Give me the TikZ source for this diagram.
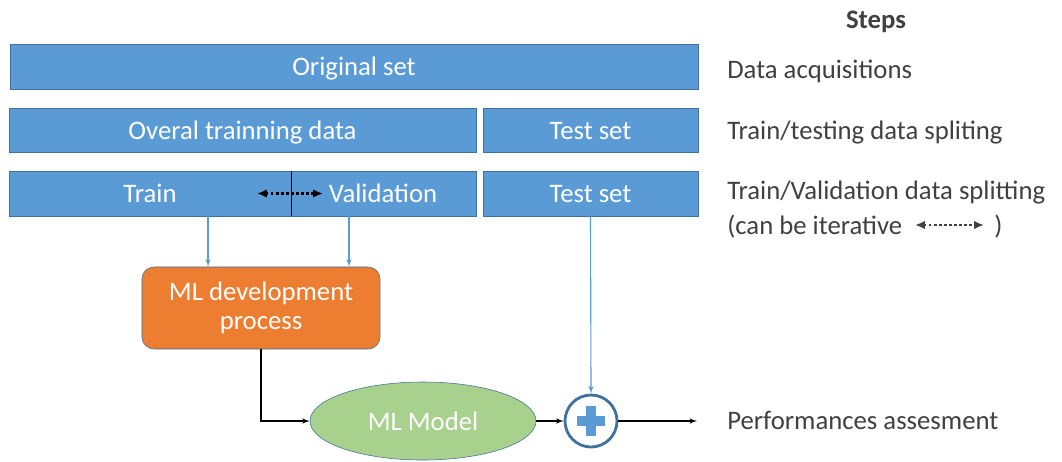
\documentclass[tikz,border=0pt]{standalone}
\usepackage{fontspec}
\setmainfont{Carlito}
\usepackage{tikz}
\usetikzlibrary{arrows}
\usetikzlibrary{arrows.meta}
\usetikzlibrary{positioning}
\usetikzlibrary{shapes.geometric}
\definecolor{boxblue}{HTML}{5B9BD5}
\definecolor{edgeblue}{HTML}{41719C}
\definecolor{devorange}{HTML}{ED7D31}
\definecolor{modelgreen}{HTML}{A9D18E}
\definecolor{stepgray}{HTML}{404040}
\tikzset{databox/.style = {draw = edgeblue, fill = boxblue, text = white,
                           minimum height = 1.1cm, inner sep = 0,
                           text height = 13pt, text depth = 0pt}}
\tikzset{steptext/.style = {anchor = west, text = stepgray, inner sep = 0,
                            text height = 13pt, text depth = 0pt}}
\tikzset{link/.style = {-latex', thick}}
\tikzset{bluelink/.style = {-latex', boxblue, thick}}
\tikzset{iterlink/.style = {{Latex[length = 7pt, width = 6pt]}-{Latex[length = 7pt, width = 6pt]},
                            line width = 1.8pt, dash pattern = on 1.8pt off 1.8pt}}

\begin{document}
\begin{tikzpicture}[x = 0.025cm, y = -0.025cm,
                    every node/.style = {font = \fontsize{19}{23}\selectfont}]
      \useasboundingbox (0, 0) rectangle (1062, 461);

      % data boxes
      \node [databox, minimum width = 17.2cm, minimum height = 1.125cm] (orig) at (354, 66.5) {Original set};
      \node [databox, minimum width = 11.675cm] (overall) at (242.5, 130) {Overal trainning data};
      \node [databox, minimum width = 5.375cm] (test1) at (590.5, 130) {Test set};
      \node [databox, minimum width = 11.675cm, minimum height = 1.125cm] (trval) at (242.5, 193.5) {};
      \node [databox, minimum width = 5.375cm, minimum height = 1.125cm] (test2) at (590.5, 193.5) {Test set};
      \node [text = white, inner sep = 0, text height = 13pt, text depth = 0pt] (train) at (150, 193.5) {Train};
      \node [text = white, inner sep = 0, text height = 13pt, text depth = 0pt] (valid) at (383, 193.5) {Validation};
      \draw (291, 0 |- trval.north) -- (291, 0 |- trval.south);
      \draw [iterlink] (257, 193.5) -- (323, 193.5);

      % development and model
      \node [draw = edgeblue, fill = devorange, text = white, rounded corners = 0.3cm,
             minimum width = 5.95cm, minimum height = 2.05cm, align = center,
             inner sep = 0] (mldev) at (261, 308) {ML development\\[-2pt]process};
      \node [ellipse, draw = edgeblue, fill = modelgreen, text = white,
             minimum width = 5.65cm, minimum height = 1.95cm] (model) at (423, 421) {ML Model};
      \node [circle, draw = edgeblue, line width = 2pt, fill = white,
             minimum size = 1.3cm] (sum) at (591, 421) {};
      \draw [boxblue, line width = 7.5pt] ([yshift = 0.37cm] sum.center) -- ([yshift = -0.37cm] sum.center);
      \draw [boxblue, line width = 7.5pt] ([xshift = -0.36cm] sum.center) -- ([xshift = 0.36cm] sum.center);
      \coordinate (out) at (697, 421);

      \draw [bluelink] (208, 0 |- trval.south) -- (208, 0 |- mldev.north);
      \draw [bluelink] (349, 0 |- trval.south) -- (349, 0 |- mldev.north);
      \draw [bluelink] (test2.south) -- (sum.north);
      \draw [link] (mldev.south) |- (model.west);
      \draw [link] (model.east) -- (sum.west);
      \draw [link] (sum.east) -- (out);

      % steps
      \node [text = stepgray, font = \fontsize{19}{23}\selectfont\bfseries] (steps) at (876, 22) {Steps};
      \node [steptext] (acq) at (727, 69) {Data acquisitions};
      \node [steptext] (split1) at (727, 130) {Train/testing data spliting};
      \node [steptext] (split2) at (727, 190) {Train/Validation data splitting};
      \node [steptext] (iter) at (727, 225) {(can be iterative};
      \node [steptext] (paren) at (994, 225) {)};
      \draw [iterlink, stepgray] (915, 225) -- (984, 225);
      \node [steptext] (perf) at (727, 420) {Performances assesment};
    \end{tikzpicture}
\end{document}
